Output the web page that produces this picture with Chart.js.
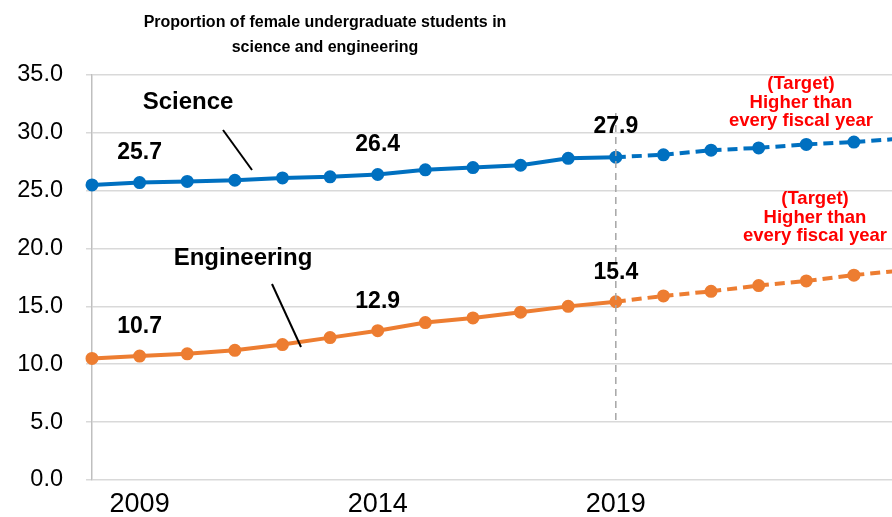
<!DOCTYPE html>
<html>
<head>
<meta charset="utf-8">
<script src="https://cdn.jsdelivr.net/npm/chart.js@4"></script>
<style>
html,body{margin:0;padding:0;background:#fff}
#wrap{width:892px;height:517px}
</style>
</head>
<body>
<div id="wrap"><canvas id="my-chart" width="892" height="517"></canvas></div>
<script>
// data (2020 onwards = target, dashed)
var years = [2008,2009,2010,2011,2012,2013,2014,2015,2016,2017,2018,2019,2020,2021,2022,2023,2024,2025]
var science = [25.5,25.7,25.8,25.9,26.1,26.2,26.4,26.8,27.0,27.2,27.8,27.9,28.1,28.5,28.7,29.0,29.2,29.5]
var engineering = [10.5,10.7,10.9,11.2,11.7,12.3,12.9,13.6,14.0,14.5,15.0,15.4,15.9,16.3,16.8,17.2,17.7,18.1]
var xTicks = [2009,2014,2019]
var labelYears = [2009,2014,2019]
var lastActual = 2019
var titleLines = ["Proportion of female undergraduate students in","science and engineering"]
var targetLines = ["(Target)","Higher than","every fiscal year"]

var FONT = '"Liberation Sans", Arial, sans-serif'
var BLUE = "#0070c0"
var ORANGE = "#ed7d31"

function pts(vals){
    return years.map(function(y,i){ return {x:y, y:vals[i]} })
}

function series(label, vals, color){
    return {
        label:label,
        data:pts(vals),
        borderColor:color,
        backgroundColor:color,
        borderWidth:4,
        pointRadius:5.5,
        pointBorderWidth:2,
        pointBackgroundColor:color,
        pointBorderColor:color,
        tension:0,
        clip:false,
        segment:{
            borderDash:function(ctx){ return ctx.p0.parsed.x >= lastActual ? [10,6] : undefined }
        }
    }
}

var extras = {
    id:'extras',
    afterDatasetsDraw:function(chart){
        var c = chart.ctx
        var xs = chart.scales.x, ys = chart.scales.y
        c.save()

        // vertical dashed separator at last actual year
        var vx = xs.getPixelForValue(lastActual)
        c.strokeStyle = "#a6a6a6"
        c.lineWidth = 1.5
        c.setLineDash([7,5])
        c.beginPath(); c.moveTo(vx,113); c.lineTo(vx,425); c.stroke()
        c.setLineDash([])

        // value labels
        c.fillStyle = "#000"
        c.font = "bold 23px " + FONT
        c.textAlign = "center"
        c.textBaseline = "middle"
        labelYears.forEach(function(yr){
            var i = years.indexOf(yr)
            var px = xs.getPixelForValue(yr)
            c.fillText(science[i].toFixed(1), px, ys.getPixelForValue(science[i]) - 30)
            c.fillText(engineering[i].toFixed(1), px, ys.getPixelForValue(engineering[i]) - 29)
        })

        // series names + leader lines
        c.font = "bold 24px " + FONT
        c.fillText("Science", 188, 102)
        c.fillText("Engineering", 243, 258)
        c.strokeStyle = "#000"
        c.lineWidth = 2
        c.beginPath(); c.moveTo(223,130); c.lineTo(252,170); c.stroke()
        c.beginPath(); c.moveTo(272,284); c.lineTo(301,347); c.stroke()

        // target notes
        c.fillStyle = "#ff0000"
        c.font = "bold 18.5px " + FONT
        targetLines.forEach(function(t,k){
            c.fillText(t, 801, 84 + k*18.5)
            c.fillText(t, 815, 199 + k*18.5)
        })

        // title
        c.fillStyle = "#000"
        c.font = "bold 16px " + FONT
        c.textBaseline = "alphabetic"
        c.fillText(titleLines[0], 325, 27)
        c.fillText(titleLines[1], 325, 52)
        c.restore()
    }
}

var myChart = document.getElementById("my-chart").getContext('2d')

var chart = new Chart(myChart,{
    type:'line',
    data:{
        datasets:[
            series("Science", science, BLUE),
            series("Engineering", engineering, ORANGE)
        ]
    },
    options:{
        responsive:false,
        devicePixelRatio:1,
        animation:false,
        layout:{autoPadding:false,padding:{top:75,left:0,right:0,bottom:0}},
        plugins:{legend:{display:false},tooltip:{enabled:false},title:{display:false}},
        scales:{
            x:{
                type:'linear',
                min:2008,
                max:2024.8,
                grid:{display:false,drawTicks:false},
                border:{display:false},
                afterBuildTicks:function(scale){
                    scale.ticks = xTicks.map(function(v){ return {value:v} })
                },
                afterFit:function(scale){ scale.height = 37 },
                ticks:{
                    color:"#000",
                    padding:8,
                    maxRotation:0,
                    autoSkip:false,
                    font:{family:FONT,size:27},
                    callback:function(v){ return String(v) }
                }
            },
            y:{
                min:0,
                max:35,
                grid:{color:"#d9d9d9",lineWidth:1.5,tickLength:6},
                border:{color:"#bfbfbf",width:1.5},
                afterFit:function(scale){ scale.width = 92 },
                ticks:{
                    stepSize:5,
                    color:"#000",
                    padding:23,
                    font:{family:FONT,size:23.5},
                    callback:function(v){ return v.toFixed(1) }
                }
            }
        }
    },
    plugins:[extras]
})
</script>
</body>
</html>
